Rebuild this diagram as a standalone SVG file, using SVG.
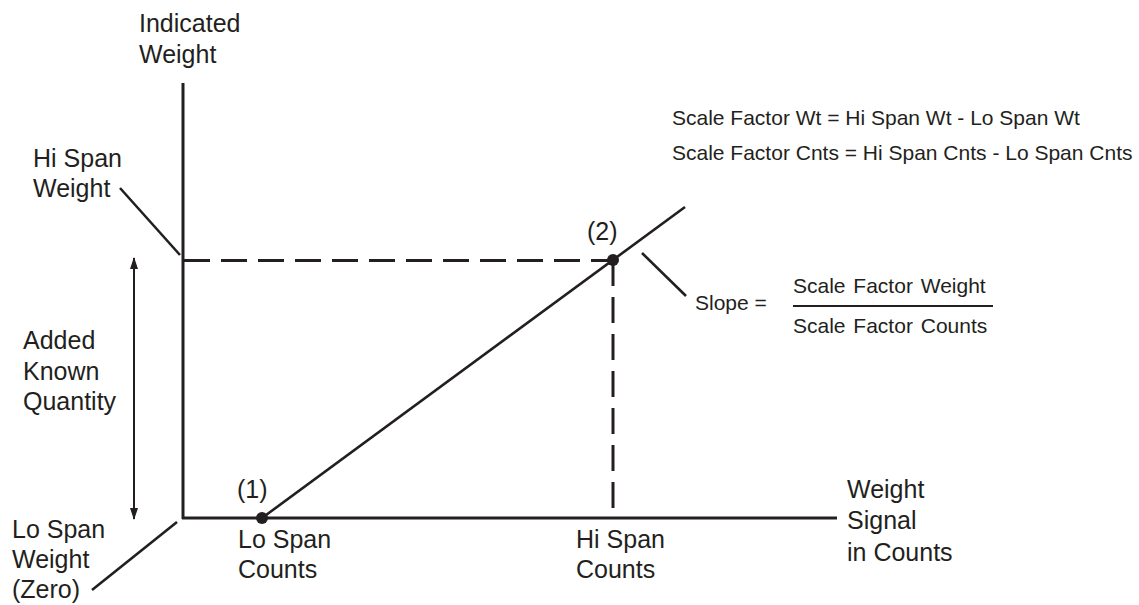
<svg xmlns="http://www.w3.org/2000/svg" width="1139" height="605" viewBox="0 0 1139 605">
<style>
.lbl{font-family:"Liberation Sans",Arial,sans-serif;font-size:25px;fill:#231f20}
.frm{font-family:"Liberation Sans",Arial,sans-serif;font-size:21px;fill:#231f20}
.axis{stroke:#231f20;stroke-width:3;fill:none}
.ln{stroke:#231f20;stroke-width:2.6;fill:none}
.dash{stroke:#231f20;stroke-width:3;fill:none;stroke-dasharray:26 11}
.dot{fill:#231f20}
</style>
<defs>
<marker id="ah" viewBox="0 0 12 8" refX="11" refY="4" markerWidth="12" markerHeight="8" markerUnits="userSpaceOnUse" orient="auto-start-reverse">
<path d="M0,0 L12,4 L0,8 z" fill="#231f20"/>
</marker>
</defs>
<rect width="1139" height="605" fill="#ffffff"/>
<g id="connectors">
<line class="axis" x1="183" y1="83" x2="183" y2="519"/>
<line class="axis" x1="182" y1="518" x2="837" y2="518"/>
<line class="dash" x1="184" y1="260.5" x2="613" y2="260.5"/>
<line class="dash" x1="613" y1="260" x2="613" y2="517"/>
<line class="ln" x1="262" y1="518" x2="685" y2="207"/>
<line class="ln" x1="120" y1="188" x2="180" y2="255"/>
<line class="ln" x1="177" y1="522" x2="92" y2="590"/>
<line class="ln" x1="642" y1="253" x2="686" y2="296"/>
<line stroke="#231f20" stroke-width="2" x1="134" y1="258" x2="134" y2="519" marker-start="url(#ah)" marker-end="url(#ah)"/>
<line stroke="#231f20" stroke-width="2.2" x1="793" y1="306" x2="993" y2="306"/>
</g>
<g id="point1">
<circle class="dot" cx="262" cy="518" r="6"/>
<text class="lbl" x="237" y="498">(1)</text>
</g>
<g id="point2">
<circle class="dot" cx="613" cy="260" r="6"/>
<text class="lbl" x="587" y="240">(2)</text>
</g>
<g id="y-axis-label">
<text class="lbl" x="139" y="32">Indicated</text>
<text class="lbl" x="139" y="63">Weight</text>
</g>
<g id="hi-span-weight">
<text class="lbl" x="33" y="167">Hi Span</text>
<text class="lbl" x="33" y="197">Weight</text>
</g>
<g id="added-known-quantity">
<text class="lbl" x="23" y="349">Added</text>
<text class="lbl" x="23" y="380">Known</text>
<text class="lbl" x="23" y="410">Quantity</text>
</g>
<g id="lo-span-weight">
<text class="lbl" x="12" y="538">Lo Span</text>
<text class="lbl" x="12" y="568">Weight</text>
<text class="lbl" x="12" y="598">(Zero)</text>
</g>
<g id="lo-span-counts">
<text class="lbl" x="238" y="548">Lo Span</text>
<text class="lbl" x="238" y="578">Counts</text>
</g>
<g id="hi-span-counts">
<text class="lbl" x="576" y="548">Hi Span</text>
<text class="lbl" x="576" y="578">Counts</text>
</g>
<g id="x-axis-label">
<text class="lbl" x="847" y="498">Weight</text>
<text class="lbl" x="847" y="529">Signal</text>
<text class="lbl" x="847" y="561">in Counts</text>
</g>
<g id="formulas">
<text class="frm" x="672" y="125">Scale Factor Wt = Hi Span Wt - Lo Span Wt</text>
<text class="frm" x="672" y="160">Scale Factor Cnts = Hi Span Cnts - Lo Span Cnts</text>
</g>
<g id="slope">
<text class="frm" x="695" y="310">Slope =</text>
<text class="frm" x="793" y="293" word-spacing="2">Scale Factor Weight</text>
<text class="frm" x="793" y="333" word-spacing="2">Scale Factor Counts</text>
</g>
</svg>
